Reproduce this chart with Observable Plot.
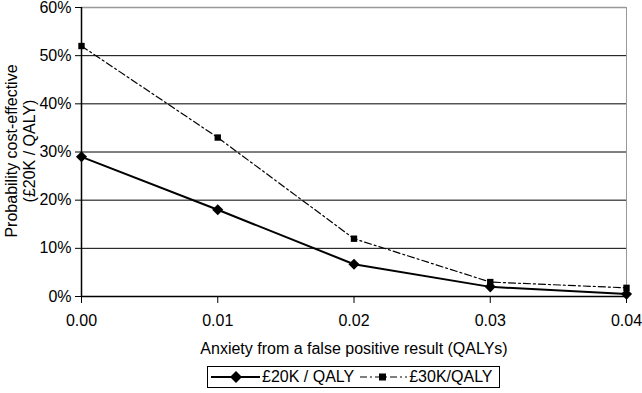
<!DOCTYPE html>
<html><head><meta charset="utf-8">
<script src="https://cdn.jsdelivr.net/npm/d3@7"></script>
<script src="https://cdn.jsdelivr.net/npm/@observablehq/plot@0.6"></script>
<style>
body{margin:0;background:#fff;font-family:"Liberation Sans",Arial,sans-serif;}
#wrap{position:relative;width:642px;height:393px;}
#legend{position:absolute;left:207px;top:366px;width:293px;height:22px;border:1px solid #000;display:flex;align-items:center;font-size:16px;white-space:nowrap;box-sizing:border-box;}
#legend svg{display:block}
.ytitle{position:absolute;width:300px;height:20px;line-height:20px;text-align:center;font-size:16px;transform:rotate(-90deg);white-space:nowrap;color:#000;}
</style></head>
<body><div id="wrap"></div>
<script>
const anxiety = [0, 0.01, 0.02, 0.03, 0.04];
const prob20k = [0.29, 0.18, 0.067, 0.02, 0.005];
const prob30k = [0.52, 0.33, 0.12, 0.03, 0.018];
const yTicks = [0, 0.1, 0.2, 0.3, 0.4, 0.5, 0.6];
const series20 = "£20K / QALY";
const series30 = "£30K/QALY";
const xTitle = "Anxiety from a false positive result (QALYs)";
const yTitleLines = ["Probability cost-effective", "(£20K / QALY)"];

const d20 = anxiety.map((x, i) => ({x, y: prob20k[i]}));
const d30 = anxiety.map((x, i) => ({x, y: prob30k[i]}));

const chart = Plot.plot({
  width: 642, height: 360,
  marginLeft: 81, marginRight: 16, marginTop: 7, marginBottom: 64,
  style: {fontFamily: '"Liberation Sans", Arial, sans-serif', fontSize: "16px", color: "#000", background: "#fff"},
  x: {domain: [0, 0.04]},
  y: {domain: [0, 0.6]},
  marks: [
    Plot.ruleY(yTicks.filter(d => d > 0 && d < 0.6), {stroke: "#000", strokeWidth: 1}),
    Plot.ruleY([0.6], {stroke: "#999", strokeWidth: 1.5}),
    Plot.ruleX([0.04], {stroke: "#999", strokeWidth: 1}),
    Plot.axisY({ticks: yTicks, tickFormat: d => Math.round(d * 100) + "%", tickSize: 6, tickPadding: 4, label: null, fontSize: 16}),
    Plot.axisX({ticks: anxiety, tickFormat: d3.format(".2f"), tickSize: 7, tickPadding: 11, label: null, fontSize: 16}),
    Plot.ruleX([0], {stroke: "#000", strokeWidth: 1.5}),
    Plot.ruleY([0], {stroke: "#000", strokeWidth: 1.5}),
    Plot.text([xTitle], {frameAnchor: "bottom", dy: 57, fontSize: 16, fill: "#000"}),
    Plot.line(d30, {x: "x", y: "y", stroke: "#000", strokeWidth: 1.2, strokeDasharray: "7,3,2,3"}),
    Plot.dot(d30, {x: "x", y: "y", symbol: "square", r: 3.6, fill: "#000", stroke: null}),
    Plot.line(d20, {x: "x", y: "y", stroke: "#000", strokeWidth: 2}),
    Plot.dot(d20, {x: "x", y: "y", symbol: "diamond2", r: 5, fill: "#000", stroke: null})
  ]
});
const wrap = document.getElementById("wrap");
wrap.appendChild(chart);

const cy = 151, cxs = [12, 30];
yTitleLines.forEach((t, i) => {
  const d = document.createElement("div");
  d.className = "ytitle";
  d.textContent = t;
  d.style.left = (cxs[i] - 150) + "px";
  d.style.top = (cy - 10) + "px";
  wrap.appendChild(d);
});

const legend = document.createElement("div");
legend.id = "legend";
legend.innerHTML =
  '<svg width="49" height="14" style="margin-left:3px"><line x1="0" y1="7" x2="49" y2="7" stroke="#000" stroke-width="2"/><path d="M25 1 L31 7 L25 13 L19 7 Z" fill="#000"/></svg>' +
  '<span style="margin-left:2px">' + series20 + '</span>' +
  '<svg width="47" height="14" style="margin-left:6px"><line x1="0" y1="7" x2="47" y2="7" stroke="#000" stroke-width="1.2" stroke-dasharray="7,3,2,3"/><rect x="19" y="3.5" width="7" height="7" fill="#000"/></svg>' +
  '<span style="margin-left:2px">' + series30 + '</span>';
wrap.appendChild(legend);
</script>
</body></html>
